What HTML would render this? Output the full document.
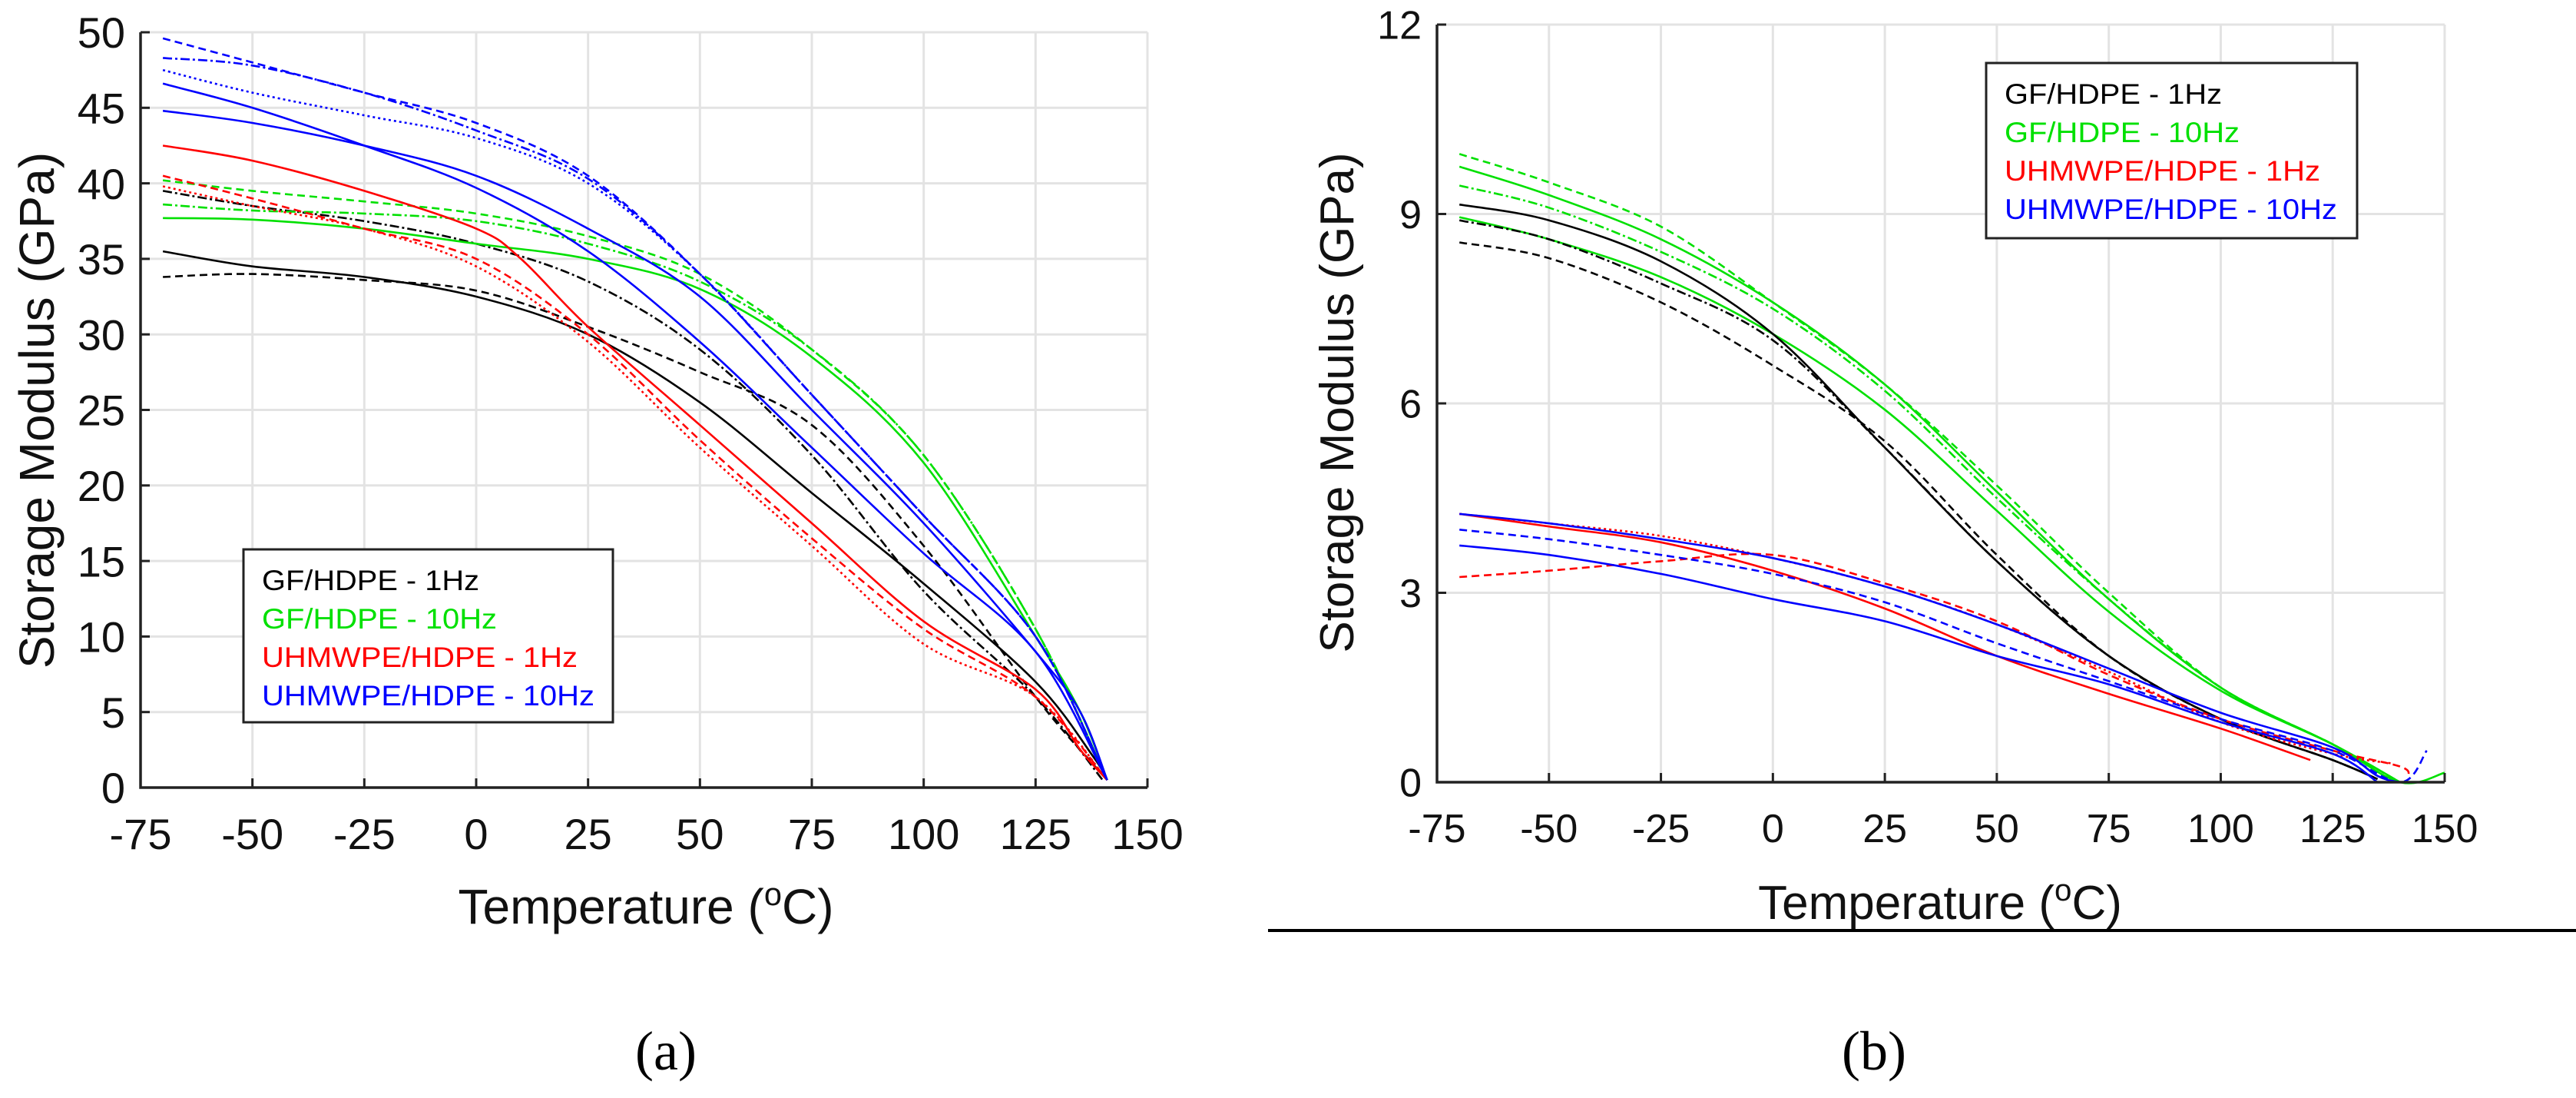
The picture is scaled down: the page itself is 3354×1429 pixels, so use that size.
<!DOCTYPE html>
<html><head><meta charset="utf-8">
<style>
html,body{margin:0;padding:0;background:#fff;}
svg{display:block;font-family:"Liberation Sans",Arial,sans-serif;}
</style></head>
<body>
<svg id="fig" width="3354" height="1429" viewBox="0 0 3354 1429" xmlns="http://www.w3.org/2000/svg">
<g id="chartA"></g>
<g id="chartB"></g>
<line x1="1651" y1="1211" x2="3354" y2="1211" stroke="#000" stroke-width="4"/>
<text x="867" y="1392" font-family="Liberation Serif, serif" font-size="72" text-anchor="middle">(a)</text>
<text x="2440" y="1392" font-family="Liberation Serif, serif" font-size="72" text-anchor="middle">(b)</text>
</svg>
<script>
// ---------- data ----------
const xTicks = [-75,-50,-25,0,25,50,75,100,125,150];
const yTicksA = [0,5,10,15,20,25,30,35,40,45,50];
const yTicksB = [0,3,6,9,12];
const legendLabels = ["GF/HDPE - 1Hz","GF/HDPE - 10Hz","UHMWPE/HDPE - 1Hz","UHMWPE/HDPE - 10Hz"];
const legendColors = ["#000000","#00e000","#ff0000","#0000ff"];

// Chart (a) series: temperatures and storage modulus (GPa)
const aBlack1T=[-70,-50,-25,0,25,50,75,100,125,138,141];
const aBlack1V=[35.5,34.5,33.8,32.5,30,25.5,19.5,13.5,7,2,0.5];
const aBlack2T=[-70,-50,-25,0,25,50,75,100,125,138,141];
const aBlack2V=[33.8,34,33.6,32.9,30.5,27.5,24,16,6,1.5,0.5];
const aBlack3T=[-70,-50,-25,0,25,50,75,100,125,140];
const aBlack3V=[39.5,38.5,37.5,36,33.5,29,22,13,6,0.5];
const aGreen1T=[-70,-50,-25,0,25,50,75,100,125,135,141];
const aGreen1V=[37.7,37.6,37,36,35,33,28.5,21.5,10,5,0.5];
const aGreen2T=[-70,-50,-25,0,25,50,75,100,125,141];
const aGreen2V=[40.2,39.5,38.8,38,36.5,34,29,22,10.5,0.5];
const aGreen3T=[-70,-50,-25,0,25,50,75,100,125,141];
const aGreen3V=[38.6,38.2,38,37.5,36,33.5,29,22,10.5,0.5];
const aRed1T=[-70,-50,-25,0,10,25,50,75,100,125,135,141];
const aRed1V=[42.5,41.5,39.5,37,35,30.5,24,17.5,11,6.5,2.5,0.5];
const aRed2T=[-70,-50,-25,0,25,50,75,100,125,141];
const aRed2V=[40.5,39,37,35,30,23,16.5,10.5,6,0.5];
const aRed3T=[-70,-50,-25,0,25,50,75,100,125,141];
const aRed3V=[39.8,38.5,37,34.5,29.5,22.5,16,9.5,6,0.5];
const aBlue1T=[-70,-50,-25,0,25,50,75,100,125,135,141];
const aBlue1V=[44.8,44,42.5,40.5,37,32.5,25,17.5,9,5,0.5];
const aBlue2T=[-70,-50,-25,0,25,50,75,100,125,141];
const aBlue2V=[46.6,45,42.5,39.7,35.5,29.5,22.5,15.5,9,0.5];
const aBlue3T=[-70,-50,-25,0,25,50,75,100,125,141];
const aBlue3V=[49.6,48,46,44,40.5,34,26,18,10,0.5];
const aBlue4T=[-70,-50,-25,0,25,50,75,100,125,141];
const aBlue4V=[47.5,46,44.5,43,40,34,26,18,10,0.5];
const aBlue5T=[-70,-50,-25,0,25,50,75,100,125,141];
const aBlue5V=[48.3,47.8,46,43.5,40.3,34,26,18,10,0.5];

// Chart (b) series
const bGreen1T=[-70,-50,-25,0,25,50,75,100,125,140,150];
const bGreen1V=[9.75,9.3,8.6,7.6,6.3,4.6,2.9,1.5,0.6,0.0,0.15];
const bGreen2T=[-70,-50,-25,0,25,50,75,100,125,140];
const bGreen2V=[9.95,9.5,8.8,7.6,6.3,4.7,3.0,1.5,0.6,0];
const bGreen3T=[-70,-50,-25,0,25,50,75,100,125,140];
const bGreen3V=[9.45,9.1,8.4,7.5,6.2,4.5,2.9,1.5,0.6,0];
const bGreen4T=[-70,-50,-25,0,25,50,75,100,125,140];
const bGreen4V=[8.95,8.6,8.0,7.1,5.9,4.3,2.7,1.45,0.6,0];
const bBlack1T=[-70,-50,-25,0,25,50,75,100,125,135];
const bBlack1V=[9.15,8.9,8.25,7.1,5.3,3.5,2.0,1.0,0.35,0.05];
const bBlack2T=[-70,-50,-25,0,25,50,75,100,125,135];
const bBlack2V=[8.55,8.3,7.6,6.6,5.4,3.6,2.0,1.0,0.35,0.05];
const bBlack3T=[-70,-50,-25,0,25,50,75,100,125,135];
const bBlack3V=[8.9,8.6,7.9,7.0,5.3,3.5,2.0,1.0,0.35,0.05];
const bRed1T=[-70,-50,-25,0,25,50,75,100,120];
const bRed1V=[4.25,4.05,3.8,3.35,2.75,2.0,1.4,0.85,0.35];
const bRed2T=[-70,-50,-25,0,25,50,75,100,125,140,142];
const bRed2V=[3.25,3.35,3.5,3.6,3.15,2.55,1.7,1.0,0.5,0.25,0.1];
const bRed3T=[-70,-50,-25,0,25,50,75,100,125,138];
const bRed3V=[4.25,4.1,3.9,3.55,3.1,2.5,1.75,0.95,0.45,0.3];
const bBlue1T=[-70,-50,-25,0,25,50,75,100,125,135,140];
const bBlue1V=[4.25,4.1,3.85,3.55,3.1,2.5,1.8,1.1,0.55,0.1,0];
const bBlue2T=[-70,-50,-25,0,25,50,75,100,125,135];
const bBlue2V=[3.75,3.6,3.3,2.9,2.55,2.0,1.55,0.95,0.45,0];
const bBlue3T=[-70,-50,-25,0,25,50,75,100,125,140,146];
const bBlue3V=[4.0,3.85,3.6,3.3,2.85,2.2,1.6,1.0,0.5,0,0.5];

const seriesA=[
 ["black-1hz-a",aBlack1T,aBlack1V,0,""],["black-1hz-b",aBlack2T,aBlack2V,0,"10 6"],["black-1hz-c",aBlack3T,aBlack3V,0,"12 4 3 4"],
 ["green-10hz-a",aGreen1T,aGreen1V,1,""],["green-10hz-b",aGreen2T,aGreen2V,1,"10 6"],["green-10hz-c",aGreen3T,aGreen3V,1,"12 4 3 4"],
 ["red-1hz-a",aRed1T,aRed1V,2,""],["red-1hz-b",aRed2T,aRed2V,2,"10 6"],["red-1hz-c",aRed3T,aRed3V,2,"3 4"],
 ["blue-10hz-a",aBlue1T,aBlue1V,3,""],["blue-10hz-b",aBlue2T,aBlue2V,3,""],["blue-10hz-c",aBlue3T,aBlue3V,3,"10 6"],
 ["blue-10hz-d",aBlue4T,aBlue4V,3,"3 4"],["blue-10hz-e",aBlue5T,aBlue5V,3,"12 4 3 4"]
];
const seriesB=[
 ["green-10hz-a",bGreen1T,bGreen1V,1,""],["green-10hz-b",bGreen2T,bGreen2V,1,"10 6"],["green-10hz-c",bGreen3T,bGreen3V,1,"12 4 3 4"],["green-10hz-d",bGreen4T,bGreen4V,1,""],
 ["black-1hz-a",bBlack1T,bBlack1V,0,""],["black-1hz-b",bBlack2T,bBlack2V,0,"10 6"],["black-1hz-c",bBlack3T,bBlack3V,0,"12 4 3 4"],
 ["red-1hz-a",bRed1T,bRed1V,2,""],["red-1hz-b",bRed2T,bRed2V,2,"10 6"],["red-1hz-c",bRed3T,bRed3V,2,"3 4"],
 ["blue-10hz-a",bBlue1T,bBlue1V,3,""],["blue-10hz-b",bBlue2T,bBlue2V,3,""],["blue-10hz-c",bBlue3T,bBlue3V,3,"10 6"]
];
const legendWidths=[283,306,411,433];

// ---------- drawing ----------
const NS="http://www.w3.org/2000/svg";
function mk(parent,tag,attrs){const e=document.createElementNS(NS,tag);for(const k in attrs)e.setAttribute(k,attrs[k]);parent.appendChild(e);return e;}
function smooth(pts){
  let d="M"+pts[0][0].toFixed(1)+","+pts[0][1].toFixed(1);
  for(let i=0;i<pts.length-1;i++){
    const p0=pts[i-1]||pts[i],p1=pts[i],p2=pts[i+1],p3=pts[i+2]||p2;
    const c1=[p1[0]+(p2[0]-p0[0])/6,p1[1]+(p2[1]-p0[1])/6];
    const c2=[p2[0]-(p3[0]-p1[0])/6,p2[1]-(p3[1]-p1[1])/6];
    d+=" C"+c1[0].toFixed(1)+","+c1[1].toFixed(1)+" "+c2[0].toFixed(1)+","+c2[1].toFixed(1)+" "+p2[0].toFixed(1)+","+p2[1].toFixed(1);
  }
  return d;
}
function draw(g,cfg,series,yTicks){
  const xS=t=>cfg.x0+(t-(-75))/225*(cfg.x1-cfg.x0);
  const yS=v=>cfg.y0-(v-0)/cfg.yMax*(cfg.y0-cfg.y1);
  xTicks.forEach(t=>{if(t===-75)return;
    const l=mk(g,"line",{x1:xS(t),x2:xS(t),y1:cfg.y1,y2:cfg.y0,stroke:"#e3e3e3","stroke-width":3});
    
    
  });
  yTicks.forEach(v=>{if(v===0)return;
    const l=mk(g,"line",{x1:cfg.x0,x2:cfg.x1,y1:yS(v),y2:yS(v),stroke:"#e3e3e3","stroke-width":3});
    
    
  });
  series.forEach(s=>{
    const pts=s[1].map((t,i)=>[xS(t),yS(s[2][i])]);
    const p=mk(g,"path",{d:smooth(pts),fill:"none",stroke:legendColors[s[3]],"stroke-width":2.6,"stroke-dasharray":s[4]||"none"});
    
    
  });
  const ax=mk(g,"path",{d:`M${cfg.x0},${cfg.y1} L${cfg.x0},${cfg.y0} L${cfg.x1},${cfg.y0}`,fill:"none",stroke:"#222","stroke-width":3.5});
  
  
  xTicks.forEach(t=>{
    const tk=mk(g,"line",{x1:xS(t),x2:xS(t),y1:cfg.y0,y2:cfg.y0-12,stroke:"#222","stroke-width":3});
    
    
    const tx=mk(g,"text",{x:xS(t),y:cfg.y0+cfg.xLabOff,"font-size":cfg.tickFs,"text-anchor":"middle",fill:"#111"});
    tx.textContent=String(t);
    
    
  });
  yTicks.forEach(v=>{
    const tk=mk(g,"line",{x1:cfg.x0,x2:cfg.x0+12,y1:yS(v),y2:yS(v),stroke:"#222","stroke-width":3});
    
    
    const tx=mk(g,"text",{x:cfg.x0-20,y:yS(v)+cfg.tickFs*0.36,"font-size":cfg.tickFs,"text-anchor":"end",fill:"#111"});
    tx.textContent=String(v);
    
    
  });
  const xt=mk(g,"text",{x:cfg.xtX,y:cfg.xtY,"font-size":cfg.titleFs,"text-anchor":"middle",fill:"#111"});
  xt.innerHTML='Temperature (<tspan font-size="'+(cfg.titleFs*0.65)+'" dy="-24">o</tspan><tspan dy="24">C)</tspan>';
  
  
  const yt=mk(g,"text",{x:0,y:0,"font-size":cfg.titleFs,"text-anchor":"middle",fill:"#111",transform:`translate(${cfg.ytX},${cfg.ytY}) rotate(-90)`});
  yt.textContent="Storage Modulus (GPa)";
  
  
  const lg=mk(g,"g",{});
  
  
  const r=mk(lg,"rect",{x:cfg.lx,y:cfg.ly,width:cfg.lw,height:cfg.lh,fill:"#fff",stroke:"#222","stroke-width":3});
  
  
  legendLabels.forEach((lab,i)=>{
    const tx=mk(lg,"text",{x:cfg.lx+24,y:cfg.ly+cfg.lFirst+i*50,"font-size":37,fill:legendColors[i],textLength:legendWidths[i],lengthAdjust:"spacingAndGlyphs"});
    tx.textContent=lab;
    
    
  });
}
draw(document.getElementById("chartA"),
 {x0:183,x1:1494,y0:1025,y1:42,yMax:50,tickFs:56,xLabOff:80,titleFs:64,xtX:841,xtY:1202,ytX:70,ytY:534,
  lx:317,ly:715,lw:481,lh:225,lFirst:53},seriesA,yTicksA);
draw(document.getElementById("chartB"),
 {x0:1871,x1:3183,y0:1018,y1:32,yMax:12,tickFs:52,xLabOff:78,titleFs:62,xtX:2526,xtY:1196,ytX:1762,ytY:524,
  lx:2586,ly:82,lw:483,lh:228,lFirst:53},seriesB,yTicksB);
</script>
</body></html>
